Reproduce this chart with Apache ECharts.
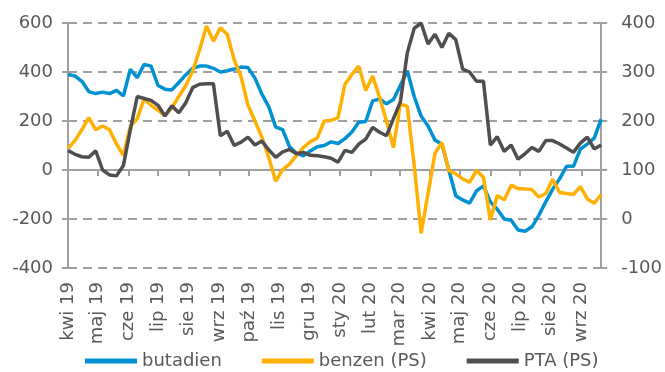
<!DOCTYPE html>
<html>
<head>
<meta charset="utf-8">
<script src="https://cdn.jsdelivr.net/npm/echarts@6/dist/echarts.min.js"></script>
<style>
  html, body { margin: 0; padding: 0; background: #fff; }
  #chart { width: 665px; height: 372px; }
</style>
</head>
<body>
<div id="chart"></div>
<script>
// Weekly observations, Apr 2019 – Sep 2020
const weeks = [
  '2019-04-01','2019-04-08','2019-04-15','2019-04-22','2019-04-29','2019-05-06','2019-05-13','2019-05-20','2019-05-27',
  '2019-06-03','2019-06-10','2019-06-17','2019-06-24','2019-07-01','2019-07-08','2019-07-15','2019-07-22','2019-07-29',
  '2019-08-05','2019-08-12','2019-08-19','2019-08-26','2019-09-02','2019-09-09','2019-09-16','2019-09-23','2019-09-30',
  '2019-10-07','2019-10-14','2019-10-21','2019-10-28','2019-11-04','2019-11-11','2019-11-18','2019-11-25','2019-12-02',
  '2019-12-09','2019-12-16','2019-12-23','2019-12-30','2020-01-06','2020-01-13','2020-01-20','2020-01-27','2020-02-03',
  '2020-02-10','2020-02-17','2020-02-24','2020-03-02','2020-03-09','2020-03-16','2020-03-23','2020-03-30','2020-04-06',
  '2020-04-13','2020-04-20','2020-04-27','2020-05-04','2020-05-11','2020-05-18','2020-05-25','2020-06-01','2020-06-08',
  '2020-06-15','2020-06-22','2020-06-29','2020-07-06','2020-07-13','2020-07-20','2020-07-27','2020-08-03','2020-08-10',
  '2020-08-17','2020-08-24','2020-08-31','2020-09-07','2020-09-14','2020-09-21'
];

// butadien – left axis
const butadien = [
  390, 384, 362, 320, 312, 318, 312, 325, 302, 411,
  377, 431, 424, 345, 330, 327, 357, 388, 415, 424,
  424, 415, 400, 405, 412, 420, 418, 375, 310, 258,
  175, 165, 95, 68, 58, 78, 95, 100, 115, 108,
  128, 155, 195, 198, 282, 290, 270, 288, 345, 405,
  300, 220, 180, 122, 106, 0, -105, -122, -135, -85,
  -65, -130, -160, -200, -205, -245, -250, -232, -185, -130,
  -78, -36, 15, 15, 85, 106, 130, 208
];

// benzen – right axis (PS)
const benzen = [
  144, 160, 182, 207, 182, 190, 182, 153, 130, 189,
  205, 245, 232, 222, 211, 227, 250, 272, 302, 345,
  394, 363, 390, 377, 325, 290, 232, 200, 167, 125,
  77, 101, 112, 130, 146, 158, 165, 200, 201, 207,
  275, 295, 312, 262, 292, 248, 200, 146, 235, 230,
  110, -29, 52, 134, 156, 99, 92, 82, 75, 99,
  85, -2, 48, 39, 69, 62, 61, 60, 45, 52,
  81, 54, 52, 50, 66, 41, 32, 50
];

// PTA – right axis (PS)
const pta = [
  140, 132, 127, 126, 139, 100, 90, 88, 109, 182,
  250, 246, 242, 232, 210, 231, 217, 237, 268, 275,
  276, 276, 170, 179, 150, 157, 167, 151, 159, 141,
  126, 137, 142, 133, 136, 130, 129, 127, 124, 116,
  140, 136, 153, 163, 187, 177, 170, 205, 239, 339,
  389, 400, 357, 377, 350, 379, 366, 306, 300, 281,
  281, 151, 168, 138, 151, 122, 133, 146, 138, 160,
  160, 153, 145, 136, 155, 167, 143, 151
];

const seriesNames = ['butadien', 'benzen (PS)', 'PTA (PS)'];
const seriesColors = ['#0091D2', '#FFB000', '#4F4F4F'];
const monthNames = ['sty','lut','mar','kwi','maj','cze','lip','sie','wrz','paź','lis','gru'];

const leftTicks = { min: -400, max: 600, interval: 200 };
const rightTicks = { min: -100, max: 400, interval: 100 };

const FONT = 'DejaVu Sans';
const TEXT = '#595959';
const GRID = '#A0A0A0';
const DAY = 24 * 3600 * 1000;

const xMin = weeks[0];
const xMax = weeks[weeks.length - 1];

function pairs(vals) { return weeks.map((d, i) => [d, vals[i]]); }

function monthLabel(v) {
  const d = new Date(v);
  return monthNames[d.getMonth()] + ' ' + String(d.getFullYear()).slice(2);
}

const timeCommon = {
  type: 'time', min: xMin, max: xMax,
  minInterval: 28 * DAY, maxInterval: 31 * DAY, splitNumber: 18,
  splitLine: { show: false }
};

const chart = echarts.init(document.getElementById('chart'), null, { renderer: 'canvas' });
chart.setOption({
  animation: false,
  backgroundColor: '#ffffff',
  textStyle: { fontFamily: FONT },
  grid: { left: 68, right: 63, top: 23, bottom: 104, containLabel: false },
  legend: {
    left: 80, top: 347,
    itemWidth: 52, itemHeight: 5, itemGap: 40, icon: 'rect',
    textStyle: { fontFamily: FONT, fontSize: 18, color: TEXT },
    data: seriesNames
  },
  xAxis: [
    Object.assign({}, timeCommon, {
      position: 'bottom',
      axisLine: { show: true, onZero: true, onZeroAxisIndex: 0, lineStyle: { color: GRID, width: 2 } },
      axisTick: { show: true, length: 6, lineStyle: { color: GRID, width: 2 } },
      axisLabel: { show: false }
    }),
    Object.assign({}, timeCommon, {
      position: 'bottom',
      axisLine: { show: false, onZero: false },
      axisTick: { show: false },
      axisLabel: {
        show: true, rotate: 90, margin: 14,
        fontFamily: FONT, fontSize: 18, color: TEXT,
        formatter: monthLabel,
        showMinLabel: true, showMaxLabel: false, hideOverlap: false
      }
    })
  ],
  yAxis: [
    {
      type: 'value', position: 'left',
      min: leftTicks.min, max: leftTicks.max, interval: leftTicks.interval,
      axisLine: { show: true, lineStyle: { color: GRID, width: 2 } },
      axisTick: { show: true, length: 6, lineStyle: { color: GRID, width: 2 } },
      axisLabel: { margin: 15, fontFamily: FONT, fontSize: 18, color: TEXT },
      splitLine: { show: true, lineStyle: { color: GRID, width: 2, type: [9, 6] } }
    },
    {
      type: 'value', position: 'right',
      min: rightTicks.min, max: rightTicks.max, interval: rightTicks.interval,
      axisLine: { show: true, lineStyle: { color: GRID, width: 2 } },
      axisTick: { show: true, length: 6, lineStyle: { color: GRID, width: 2 } },
      axisLabel: { margin: 20, fontFamily: FONT, fontSize: 18, color: TEXT },
      splitLine: { show: false }
    }
  ],
  series: [
    { name: seriesNames[0], type: 'line', xAxisIndex: 0, yAxisIndex: 0, data: pairs(butadien),
      showSymbol: false, symbol: 'none', color: seriesColors[0], lineStyle: { width: 3.5, color: seriesColors[0] } },
    { name: seriesNames[1], type: 'line', xAxisIndex: 0, yAxisIndex: 1, data: pairs(benzen),
      showSymbol: false, symbol: 'none', color: seriesColors[1], lineStyle: { width: 3.5, color: seriesColors[1] } },
    { name: seriesNames[2], type: 'line', xAxisIndex: 0, yAxisIndex: 1, data: pairs(pta),
      showSymbol: false, symbol: 'none', color: seriesColors[2], lineStyle: { width: 3.5, color: seriesColors[2] } }
  ]
});
</script>
</body>
</html>
